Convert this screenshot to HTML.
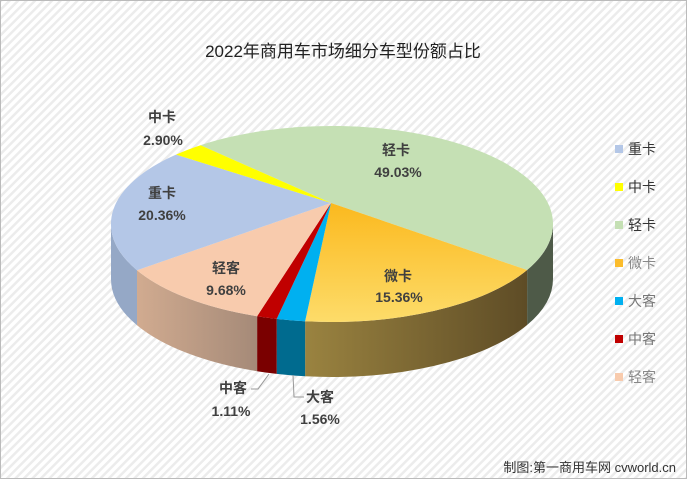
<!DOCTYPE html>
<html><head><meta charset="utf-8"><style>
body{margin:0;background:#fff}
#c{position:relative;width:687px;height:479px;overflow:hidden}
svg text{font-family:"Liberation Sans","Noto Sans CJK SC",sans-serif}
</style></head><body><div id="c">
<svg id="s" width="687" height="479" xmlns="http://www.w3.org/2000/svg">
<defs>
<pattern id="st" width="6" height="6" patternUnits="userSpaceOnUse" patternTransform="rotate(45)">
<rect width="6" height="6" fill="#fff"/><rect width="2.5" height="6" fill="#ececec"/></pattern>
<linearGradient id="og" x1="0" y1="0" x2="0" y2="1"><stop offset="0" stop-color="#fbb91e"/><stop offset="1" stop-color="#fddc6a"/></linearGradient>
<linearGradient id="os" x1="0" y1="0" x2="1" y2="0"><stop offset="0" stop-color="#9a8340"/><stop offset="1" stop-color="#5e4c26"/></linearGradient>
<linearGradient id="ps" x1="0" y1="0" x2="1" y2="0"><stop offset="0" stop-color="#d1ab90"/><stop offset="1" stop-color="#a58a78"/></linearGradient>
</defs>
<rect x="0.5" y="0.5" width="686" height="478" fill="url(#st)" stroke="#bbb"/>
<text x="343" y="57" font-size="17" text-anchor="middle" fill="#222">2022年商用车市场细分车型份额占比</text>
<g id="pie"></g>
<g font-size="14" font-weight="bold" fill="#404040" text-anchor="middle">
<text x="396" y="155">轻卡</text><text x="398" y="177">49.03%</text>
<text x="398" y="281">微卡</text><text x="399" y="302">15.36%</text>
<text x="162" y="198">重卡</text><text x="162" y="220">20.36%</text>
<text x="226" y="273">轻客</text><text x="226" y="295">9.68%</text>
<text x="162" y="122">中卡</text><text x="163" y="145">2.90%</text>
<text x="233" y="393">中客</text><text x="231" y="416">1.11%</text>
<text x="320" y="402">大客</text><text x="320" y="424">1.56%</text>
</g>
<polyline points="251,389 258,389 269,374" fill="none" stroke="#999"/>
<polyline points="304,397 294,397 293,375" fill="none" stroke="#999"/>
<g font-size="14">
<rect x="615" y="145" width="8" height="8" fill="#b4c7e7"/><text x="628" y="154" fill="#333">重卡</text>
<rect x="615" y="183" width="8" height="8" fill="#ffff00"/><text x="628" y="192" fill="#333">中卡</text>
<rect x="615" y="221" width="8" height="8" fill="#c5e0b4"/><text x="628" y="230" fill="#333">轻卡</text>
<rect x="615" y="259" width="8" height="8" fill="#fbbc2c"/><text x="628" y="268" fill="#888">微卡</text>
<rect x="615" y="297" width="8" height="8" fill="#00b0f0"/><text x="628" y="306" fill="#777">大客</text>
<rect x="615" y="335" width="8" height="8" fill="#c00000"/><text x="628" y="344" fill="#777">中客</text>
<rect x="615" y="373" width="8" height="8" fill="#f8cbad"/><text x="628" y="382" fill="#888">轻客</text>
</g>
<text x="676" y="472" font-size="13" text-anchor="end" fill="#333">制图:第一商用车网 cvworld.cn</text>
</svg>
<script>
var cx=332,cy=224,rx=221,ry=98,D=55,ax=331,ay=203;
function P(t,d){t=t*Math.PI/180;return [(cx+rx*Math.cos(t)).toFixed(1),(cy+ry*Math.sin(t)+(d||0)).toFixed(1)];}
var segs=[[-126.5,28,"#c5e0b4","#4e5a48"],[28,97,"url(#og)","url(#os)"],[97,104.5,"#00b0f0","#006b8f"],[104.5,109.8,"#c00000","#7a0000"],[109.8,151.9,"#f8cbad","url(#ps)"],[151.9,225.1,"#b4c7e7","#95a8c6"],[225.1,233.5,"#ffff00","#888800"]];
var g=document.getElementById("pie"),h="";
segs.forEach(function(s){var a=Math.max(s[0],0),b=Math.min(s[1],180);if(b>a){var p1=P(a),p2=P(b),q2=P(b,D),q1=P(a,D);
h+='<path d="M'+p1+' A'+rx+' '+ry+' 0 0 1 '+p2+' L'+q2+' A'+rx+' '+ry+' 0 0 0 '+q1+' Z" fill="'+s[3]+'"/>';}});
segs.forEach(function(s){var p1=P(s[0]),p2=P(s[1]),L=(s[1]-s[0])>180?1:0;
h+='<path d="M'+ax+','+ay+' L'+p1+' A'+rx+' '+ry+' 0 '+L+' 1 '+p2+' Z" fill="'+s[2]+'"/>';});
g.innerHTML=h;
</script>
</div></body></html>
